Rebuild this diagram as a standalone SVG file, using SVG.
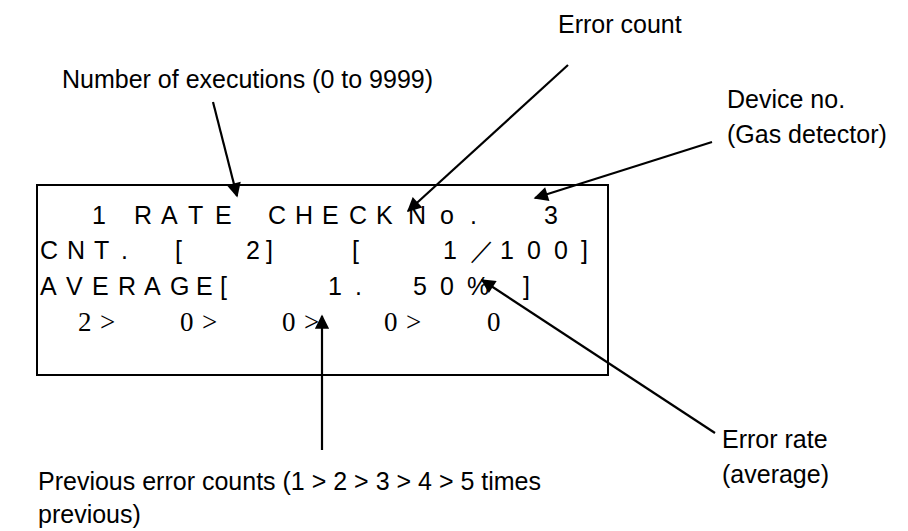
<svg xmlns="http://www.w3.org/2000/svg" width="908" height="531" viewBox="0 0 908 531">
<defs>
<style>
.lbl{font-family:"Liberation Sans",Arial,sans-serif;font-size:25px;fill:#000}
.lcd{font-family:"Liberation Sans",Arial,sans-serif;font-size:25px;fill:#000}
.ser{font-family:"Liberation Serif","Times New Roman",serif;font-size:27px;fill:#000}
.con{stroke:#000;stroke-width:2.2;fill:none;marker-end:url(#ah)}
</style>
<marker id="ah" viewBox="0 0 10 10" refX="9" refY="5" markerWidth="7.5" markerHeight="6.5" markerUnits="strokeWidth" orient="auto">
<path d="M0,0 L10,5 L0,10 z" fill="#000"/>
</marker>
</defs>
<rect width="908" height="531" fill="#fff"/>
<g id="display">
<rect x="37" y="185" width="571" height="190" fill="none" stroke="#000" stroke-width="2"/>
<text class="lcd" y="224"><tspan x="92">1</tspan><tspan x="134 161 188 215">RATE</tspan><tspan x="268 295 322 349 376">CHECK</tspan><tspan x="408 440 470">No.</tspan><tspan x="544">3</tspan></text>
<text class="lcd" y="259"><tspan x="40 67 94 121">CNT.</tspan><tspan x="175">[</tspan><tspan x="246 266">2]</tspan><tspan x="352">[</tspan><tspan x="443 470 500 527 554 581">1／100]</tspan></text>
<text class="lcd" y="295"><tspan x="40 66 92 118 144 170 196">AVERAGE</tspan><tspan x="220">[</tspan><tspan x="328 355">1.</tspan><tspan x="413 440 467">50%</tspan><tspan x="523">]</tspan></text>
<text class="ser" y="331"><tspan x="78">2</tspan><tspan x="100">&gt;</tspan><tspan x="180">0</tspan><tspan x="202">&gt;</tspan><tspan x="282">0</tspan><tspan x="304">&gt;</tspan><tspan x="384">0</tspan><tspan x="406">&gt;</tspan><tspan x="487">0</tspan></text>
</g>
<g id="label-executions"><text class="lbl" x="62" y="88">Number of executions (0 to 9999)</text></g>
<g id="label-errorcount"><text class="lbl" x="558" y="33">Error count</text></g>
<g id="label-device"><text class="lbl" x="727" y="108">Device no.</text><text class="lbl" x="727" y="143">(Gas detector)</text></g>
<g id="label-errorrate"><text class="lbl" x="722" y="448">Error rate</text><text class="lbl" x="722" y="483">(average)</text></g>
<g id="label-previous"><text class="lbl" x="38" y="490">Previous error counts (1 &gt; 2 &gt; 3 &gt; 4 &gt; 5 times</text><text class="lbl" x="38" y="523">previous)</text></g>
<g id="connectors">
<line class="con" x1="213" y1="102" x2="237" y2="196"/>
<line class="con" x1="568" y1="65" x2="408" y2="211"/>
<line class="con" x1="712" y1="142" x2="535" y2="198"/>
<line class="con" x1="715" y1="433" x2="482" y2="280"/>
<line class="con" x1="322" y1="450" x2="322" y2="316"/>
</g>
</svg>
